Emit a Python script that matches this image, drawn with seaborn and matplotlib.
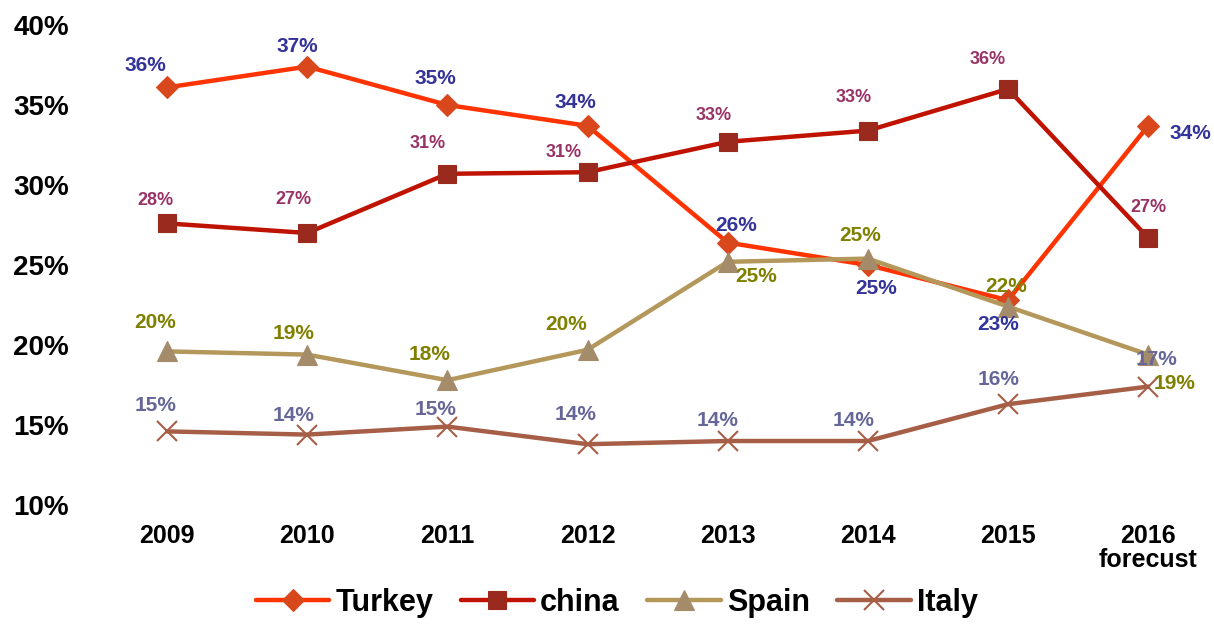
import numpy as np
import pandas as pd
import matplotlib
matplotlib.use('Agg')
import matplotlib.pyplot as plt
import seaborn as sns

years = ['2009', '2010', '2011', '2012', '2013', '2014', '2015', '2016']
year_labels = ['2009', '2010', '2011', '2012', '2013', '2014', '2015', '2016\nforecust']

turkey = [36.1, 37.4, 35.0, 33.7, 26.4, 25.0, 22.8, 33.7]
china = [27.6, 27.0, 30.7, 30.8, 32.7, 33.4, 36.0, 26.7]
spain = [19.6, 19.4, 17.8, 19.7, 25.2, 25.4, 22.4, 19.4]
italy = [14.6, 14.4, 14.9, 13.8, 14.0, 14.0, 16.3, 17.4]

y_ticks = [10, 15, 20, 25, 30, 35, 40]

sns.set_theme(style='white')
plt.rcParams['font.family'] = ['Liberation Sans', 'DejaVu Sans']

# style per series: line colour, marker, marker face, marker size, label colour, label size
series = [
    ('Turkey', turkey, '#FF3300', 'D', '#D9481C', 11, '#333399', 15),
    ('china', china, '#BF1300', 's', '#9A2A1E', 13, '#993366', 13),
    ('Spain', spain, '#B4975A', '^', '#A48B6A', 14, '#808000', 15),
    ('Italy', italy, '#A65E46', 'x', '#A65E46', 14, '#666699', 15),
]

# label offsets in pixels (dx, dy) relative to each point
offsets = {
    'Turkey': [(-22, 22), (-10, 20), (-12, 26), (-12, 23), (8, 17), (8, -23), (-10, -24), (42, -8)],
    'china': [(-12, 23), (-14, 33), (-20, 30), (-24, 20), (-14, 26), (-14, 33), (-20, 29), (0, 30)],
    'Spain': [(-12, 29), (-14, 21), (-18, 26), (-21, 25), (28, -15), (-8, 23), (-2, 20), (26, -29)],
    'Italy': [(-12, 26), (-14, 19), (-12, 17), (-12, 30), (-10, 21), (-14, 21), (-9, 25), (8, 27)],
}

fig = plt.figure(figsize=(12.14, 6.24), dpi=100)
ax = fig.add_axes([97 / 1214, 119 / 624, 1 - 97 / 1214, 480 / 624])

for name, vals, lc, mk, mf, ms, tc, ts in series:
    df = pd.DataFrame({'year': years, 'value': vals})
    sns.lineplot(data=df, x='year', y='value', ax=ax, color=lc, linewidth=3.2,
                 marker=mk, markersize=ms, markerfacecolor=mf,
                 markeredgecolor=mf if mk != 'x' else lc,
                 markeredgewidth=1.5 if mk == 'x' else 0.8,
                 label=name, sort=False)
    for i, v in enumerate(vals):
        dx, dy = offsets[name][i]
        ax.annotate(f'{v:.0f}%', (i, v), xytext=(dx, dy), textcoords='offset pixels',
                    ha='center', va='center', color=tc, fontsize=ts, fontweight='bold')

ax.set_ylim(10, 40)
ax.set_xlim(-0.5, 7.47)
ax.set_yticks(y_ticks)
ax.set_yticklabels([f'{t}%' for t in y_ticks], fontsize=20, fontweight='bold', color='black')
ax.set_xticks(range(len(years)))
ax.set_xticklabels(year_labels, fontsize=18, fontweight='bold', color='black', linespacing=1.0)
ax.tick_params(axis='y', length=0, pad=20)
ax.tick_params(axis='x', length=0, pad=14)
ax.set_xlabel('')
ax.set_ylabel('')
for s in ax.spines.values():
    s.set_visible(False)

leg = ax.legend(loc='center', bbox_to_anchor=(0.508, 0.034), bbox_transform=fig.transFigure,
                ncol=4, frameon=False, prop={'weight': 'bold', 'size': 22},
                handlelength=2.4, columnspacing=0.9, handletextpad=0.2)
for t in leg.get_texts():
    t.set_color('black')

fig.savefig('out.png', dpi=100)
